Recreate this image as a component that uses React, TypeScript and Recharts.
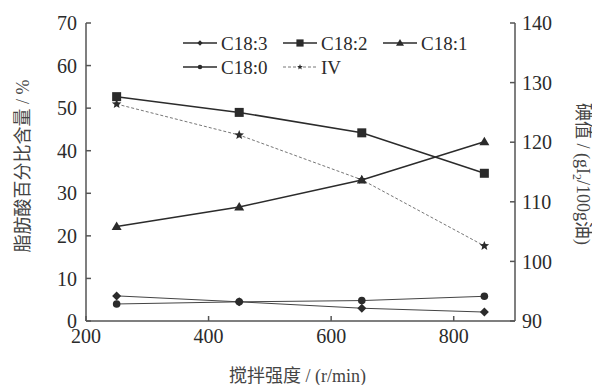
import { Label, Legend, Line, LineChart, XAxis, YAxis } from 'recharts'

const speeds = [250, 450, 650, 850]
const c183 = [5.9, 4.5, 3.0, 2.1]
const c182 = [52.7, 49.0, 44.2, 34.7]
const c181 = [22.2, 26.8, 33.1, 42.1]
const c180 = [4.0, 4.5, 4.8, 5.8]
const iodine = [126.4, 121.2, 113.7, 102.6]

const xTicks = [200, 400, 600, 800]
const leftTicks = [0, 10, 20, 30, 40, 50, 60, 70]
const rightTicks = [90, 100, 110, 120, 130, 140]

const data = speeds.map((s, i) => ({
  speed: s,
  c183: c183[i],
  c182: c182[i],
  c181: c181[i],
  c180: c180[i],
  iv: iodine[i],
}))

const font = "'Liberation Serif', 'Times New Roman', Times, 'Noto Sans CJK SC', serif"
const ink = '#2b2b2b'
const axisColor = '#555'

type Shape = 'diamond' | 'square' | 'triangle' | 'circle' | 'star'

function Marker({ shape, cx, cy, s = 1 }: { shape: Shape; cx: number; cy: number; s?: number }) {
  if (shape === 'square') {
    const h = 4.5 * s
    return <rect x={cx - h} y={cy - h} width={h * 2} height={h * 2} fill={ink} />
  }
  if (shape === 'diamond') {
    const h = 4.5 * s
    return <path d={`M${cx},${cy - h}L${cx + h},${cy}L${cx},${cy + h}L${cx - h},${cy}Z`} fill={ink} />
  }
  if (shape === 'triangle') {
    const h = 5 * s
    return <path d={`M${cx},${cy - h}L${cx + h},${cy + h * 0.7}L${cx - h},${cy + h * 0.7}Z`} fill={ink} />
  }
  if (shape === 'circle') {
    return <circle cx={cx} cy={cy} r={3.8 * s} fill={ink} />
  }
  // star
  const pts: string[] = []
  for (let k = 0; k < 10; k++) {
    const r = (k % 2 === 0 ? 5 : 2.2) * s
    const a = -Math.PI / 2 + (k * Math.PI) / 5
    pts.push(`${cx + r * Math.cos(a)},${cy + r * Math.sin(a)}`)
  }
  return <polygon points={pts.join(' ')} fill={ink} />
}

const dotFor = (shape: Shape) => (p: any) => (
  <Marker key={`${shape}-${p.index}`} shape={shape} cx={p.cx} cy={p.cy} />
)

const legendRows: { name: string; shape: Shape; dashed?: boolean; col: number; row: number }[] = [
  { name: 'C18:3', shape: 'diamond', col: 0, row: 0 },
  { name: 'C18:2', shape: 'square', col: 1, row: 0 },
  { name: 'C18:1', shape: 'triangle', col: 2, row: 0 },
  { name: 'C18:0', shape: 'circle', col: 0, row: 1 },
  { name: 'IV', shape: 'star', dashed: true, col: 1, row: 1 },
]

function ChartLegend() {
  return (
    <svg width={300} height={50}>
      {legendRows.map((it) => {
        const x0 = 3 + it.col * 100
        const y = 13 + it.row * 24
        return (
          <g key={it.name}>
            <line
              x1={x0}
              x2={x0 + 34}
              y1={y}
              y2={y}
              stroke={it.dashed ? '#777' : ink}
              strokeWidth={it.dashed ? 1 : 1.3}
              strokeDasharray={it.dashed ? '3 2' : undefined}
            />
            <Marker shape={it.shape} cx={x0 + 17} cy={y} s={it.shape === 'square' || it.shape === 'triangle' ? 0.8 : 0.6} />
            <text x={x0 + 38} y={y} dy='0.35em' fontSize={19} fontFamily={font} fill={ink}>
              {it.name}
            </text>
          </g>
        )
      })}
    </svg>
  )
}

const leftTitle = (props: any) => {
  const vb = props.viewBox
  const x = vb.x + 23
  const y = vb.y + vb.height / 2 - 6
  return (
    <text x={x} y={y} transform={`rotate(-90 ${x} ${y})`} textAnchor='middle' dy='0.35em' fontSize={18} fontFamily={font} fill='#444'>
      脂肪酸百分比含量 / %
    </text>
  )
}

const rightTitle = (props: any) => {
  const vb = props.viewBox
  const x = vb.x + 68
  const y = vb.y + vb.height / 2 + 2
  return (
    <text x={x} y={y} transform={`rotate(90 ${x} ${y})`} textAnchor='middle' dy='0.35em' fontSize={18} fontFamily={font} fill='#444'>
      碘值 / (gI
      <tspan fontSize={12} dy={4}>2</tspan>
      <tspan dy={-4}>/100g油)</tspan>
    </text>
  )
}

const bottomTitle = (props: any) => {
  const vb = props.viewBox
  const x = vb.x + vb.width / 2 - 3
  const y = vb.y + 55
  return (
    <text x={x} y={y} textAnchor='middle' dy='0.35em' fontSize={18} fontFamily={font} fill='#444'>
      搅拌强度 / (r/min)
    </text>
  )
}

export default function App() {
  const tick = { fontSize: 20, fontFamily: font, fill: ink }
  return (
    <div style={{ position: 'absolute', left: 0, top: 0, background: '#fff' }}>
      <LineChart width={592} height={385} data={data} margin={{ top: 23, right: 0, bottom: 0, left: 0 }}>
        <XAxis
          dataKey='speed'
          type='number'
          domain={[200, 900]}
          ticks={xTicks}
          height={64}
          tickSize={-5}
          tickMargin={13}
          tick={tick}
          stroke={axisColor}
          strokeWidth={1.5}
          interval={0}
        >
          <Label content={bottomTitle} />
        </XAxis>
        <YAxis
          yAxisId='left'
          domain={[0, 70]}
          ticks={leftTicks}
          width={86}
          tickSize={-5}
          tickMargin={14}
          tick={tick}
          stroke={axisColor}
          strokeWidth={1.5}
          interval={0}
        >
          <Label content={leftTitle} />
        </YAxis>
        <YAxis
          yAxisId='right'
          orientation='right'
          domain={[90, 140]}
          ticks={rightTicks}
          width={77}
          tickSize={-5}
          tickMargin={12}
          tick={tick}
          stroke={axisColor}
          strokeWidth={1.5}
          interval={0}
        >
          <Label content={rightTitle} />
        </YAxis>
        <Legend
          layout='horizontal'
          verticalAlign='middle'
          align='center'
          content={<ChartLegend />}
          wrapperStyle={{ top: 30, left: 180, width: 300 }}
        />
        <Line yAxisId='left' dataKey='c182' stroke={ink} strokeWidth={1.5} dot={dotFor('square')} isAnimationActive={false} />
        <Line yAxisId='left' dataKey='c181' stroke={ink} strokeWidth={1.5} dot={dotFor('triangle')} isAnimationActive={false} />
        <Line yAxisId='left' dataKey='c183' stroke='#444' strokeWidth={1} dot={dotFor('diamond')} isAnimationActive={false} />
        <Line yAxisId='left' dataKey='c180' stroke='#444' strokeWidth={1} dot={dotFor('circle')} isAnimationActive={false} />
        <Line yAxisId='right' dataKey='iv' stroke='#777' strokeWidth={1} strokeDasharray='3 2' dot={dotFor('star')} isAnimationActive={false} />
      </LineChart>
    </div>
  )
}
